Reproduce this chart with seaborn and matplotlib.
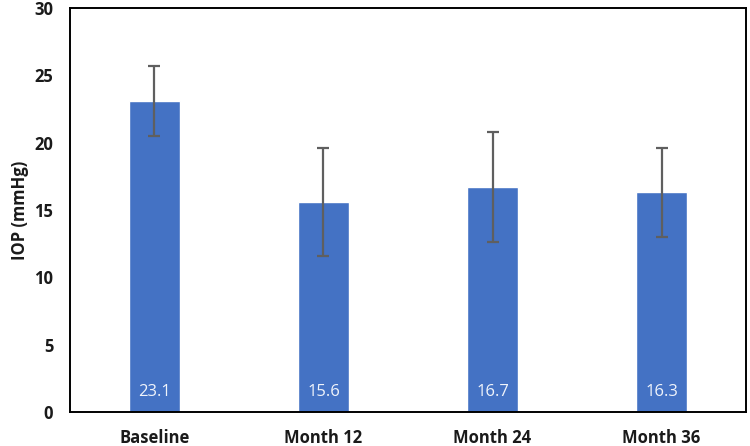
import matplotlib
matplotlib.use("Agg")
import matplotlib.pyplot as plt
import seaborn as sns
import pandas as pd

categories = ["Baseline", "Month 12", "Month 24", "Month 36"]
iop_mean = [23.1, 15.6, 16.7, 16.3]
iop_err = [2.6, 4.0, 4.1, 3.3]
value_labels = ["23.1", "15.6", "16.7", "16.3"]

sns.set_style("white")
plt.rcParams['font.family'] = ['Open Sans', 'DejaVu Sans']

df = pd.DataFrame({"cat": categories, "iop": iop_mean})

fig = plt.figure(figsize=(7.5, 4.46), dpi=100)
ax = fig.add_axes([0.0933, 0.0762, 0.9014, 0.906])

sns.barplot(data=df, x="cat", y="iop", color="#4472C4", saturation=1,
            width=0.305, errorbar=None, ax=ax)
ax.errorbar(x=list(range(len(categories))), y=iop_mean, yerr=iop_err,
            fmt="none", ecolor="#5f5f5f", elinewidth=1.6, capsize=4, capthick=1.6)

for i, lbl in enumerate(value_labels):
    ax.text(i, 1.45, lbl, ha="center", va="center", color="#f0f4fb", fontsize=12)

ax.set_ylim(0, 30)
ax.set_xlim(-0.5, 3.5)
ax.set_yticks([0, 5, 10, 15, 20, 25, 30])
ax.set_xlabel("")
ax.set_ylabel("IOP (mmHg)", fontsize=12, fontweight="bold", color="#1a1a1a", labelpad=4)
ax.tick_params(axis="y", length=0, labelsize=12, colors="#1a1a1a", pad=12)
ax.tick_params(axis="x", length=0, labelsize=12, colors="#1a1a1a", pad=12)
for t in ax.get_xticklabels() + ax.get_yticklabels():
    t.set_fontweight("bold")
for s in ax.spines.values():
    s.set_visible(True)
    s.set_color("black")
    s.set_linewidth(1.4)

fig.savefig("out.png", dpi=100)
